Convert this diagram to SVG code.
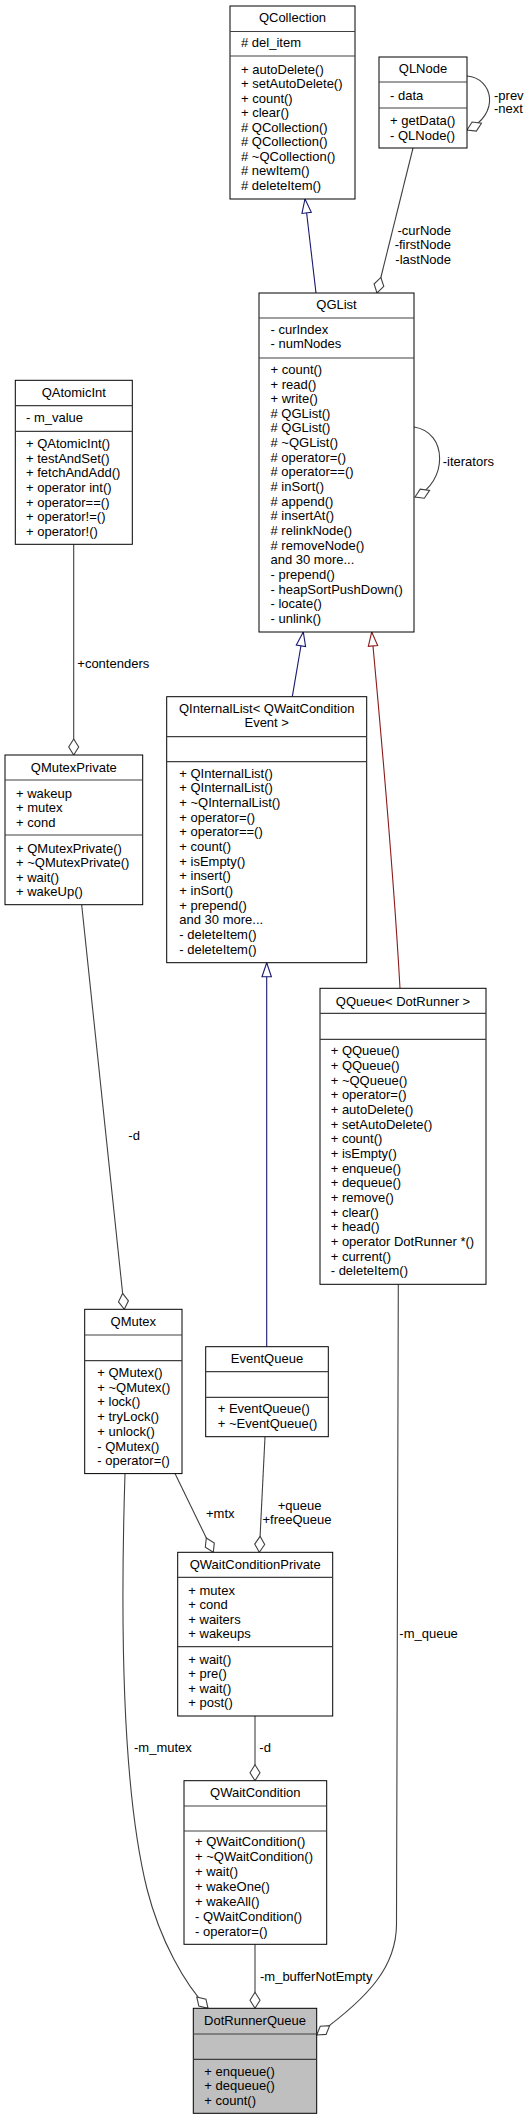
<svg xmlns="http://www.w3.org/2000/svg" width="530" height="2120" viewBox="0 0 530 2120">
<style>
text{font-family:"Liberation Sans",Arial,Helvetica,sans-serif;font-size:13px;fill:#000}
.c{text-anchor:middle}
.e{text-anchor:end}
.box{fill:#fff;stroke:#000;stroke-width:1}
.cur{fill:#bfbfbf;stroke:#000;stroke-width:1}
.sep{stroke:#404040;stroke-width:1.2}
.use{fill:none;stroke:#404040;stroke-width:1.1}
.pub{fill:none;stroke:#191970;stroke-width:1.1}
.pri{fill:none;stroke:#8b1a1a;stroke-width:1.1}
</style>
<defs>
<marker id="dia" markerUnits="userSpaceOnUse" markerWidth="20" markerHeight="14" refX="17" refY="6" orient="auto" overflow="visible"><path d="M1,6 L9,1 L17,6 L9,11 Z" fill="#fff" stroke="#404040" stroke-width="1.1"/></marker>
<marker id="triB" markerUnits="userSpaceOnUse" markerWidth="18" markerHeight="14" refX="15" refY="6" orient="auto" overflow="visible"><path d="M1,1.3 L15,6 L1,10.7 Z" fill="#fff" stroke="#191970" stroke-width="1.1"/></marker>
<marker id="triR" markerUnits="userSpaceOnUse" markerWidth="18" markerHeight="14" refX="15" refY="6" orient="auto" overflow="visible"><path d="M1,1.3 L15,6 L1,10.7 Z" fill="#fff" stroke="#8b1a1a" stroke-width="1.1"/></marker>
</defs>
<rect width="530" height="2120" fill="#fff"/>
<g id="connectors">
<path class="pub" d="M316,293 L305,199" marker-end="url(#triB)"/>
<path class="use" d="M413,148 L377,293" marker-end="url(#dia)"/>
<text class="e" x="451" y="234.5">-curNode</text>
<text class="e" x="451" y="248.5">-firstNode</text>
<text class="e" x="451" y="263.5">-lastNode</text>
<path class="use" d="M467,76 C493,78 501,114 467,130" marker-end="url(#dia)"/>
<text x="494" y="99.5">-prev</text>
<text x="494" y="113">-next</text>
<path class="use" d="M414,427 C448,432 448,482 415,497" marker-end="url(#dia)"/>
<text x="442.7" y="466">-iterators</text>
<path class="use" d="M73.7,544.3 L73.7,755" marker-end="url(#dia)"/>
<text x="77.3" y="667.8">+contenders</text>
<path class="pub" d="M292.3,696.7 L303.3,632" marker-end="url(#triB)"/>
<path class="pri" d="M400,988.3 C394,880 378,700 371.7,632" marker-end="url(#triR)"/>
<path class="use" d="M81.7,905 L124.3,1309.3" marker-end="url(#dia)"/>
<text x="128.3" y="1140.2">-d</text>
<path class="pub" d="M266.7,1346.7 L266.7,962.7" marker-end="url(#triB)"/>
<path class="use" d="M265,1436.7 L259.3,1552.3" marker-end="url(#dia)"/>
<text class="c" x="299.5" y="1509.5">+queue</text>
<text class="c" x="297" y="1523.8">+freeQueue</text>
<path class="use" d="M175,1473.6 L213.3,1552.3" marker-end="url(#dia)"/>
<text x="206" y="1517.8">+mtx</text>
<path class="use" d="M255,1716 L255,1780.7" marker-end="url(#dia)"/>
<text x="259.3" y="1752.2">-d</text>
<path class="use" d="M255,1944.3 L255,2008.3" marker-end="url(#dia)"/>
<text x="260" y="1980.5">-m_bufferNotEmpty</text>
<path class="use" d="M125,1473.6 C121,1600 120,1780 147,1889 C160,1940 185,1985 208,2008.3" marker-end="url(#dia)"/>
<text x="134" y="1752">-m_mutex</text>
<path class="use" d="M398.3,1284.3 L396.5,1925 C396,1965 372,1995 316.7,2035" marker-end="url(#dia)"/>
<text x="399.3" y="1637.8">-m_queue</text>
</g>
<g id="QCollection">
<rect class="box" x="230" y="6" width="125" height="193"/>
<line class="sep" x1="230" y1="31.5" x2="355" y2="31.5"/>
<line class="sep" x1="230" y1="56" x2="355" y2="56"/>
<text class="c" x="292.5" y="21.5">QCollection</text>
<text x="241" y="47"># del_item</text>
<text x="241" y="73.5">+ autoDelete()</text>
<text x="241" y="88">+ setAutoDelete()</text>
<text x="241" y="102.5">+ count()</text>
<text x="241" y="117">+ clear()</text>
<text x="241" y="131.5"># QCollection()</text>
<text x="241" y="146"># QCollection()</text>
<text x="241" y="160.5"># ~QCollection()</text>
<text x="241" y="175"># newItem()</text>
<text x="241" y="189.5"># deleteItem()</text>
</g>
<g id="QLNode">
<rect class="box" x="379" y="57" width="88" height="91"/>
<line class="sep" x1="379" y1="82" x2="467" y2="82"/>
<line class="sep" x1="379" y1="108" x2="467" y2="108"/>
<text class="c" x="423" y="72.5">QLNode</text>
<text x="390" y="99.5">- data</text>
<text x="390" y="124.5">+ getData()</text>
<text x="390" y="139.5">- QLNode()</text>
</g>
<g id="QGList">
<rect class="box" x="259" y="293" width="155" height="339"/>
<line class="sep" x1="259" y1="318" x2="414" y2="318"/>
<line class="sep" x1="259" y1="358" x2="414" y2="358"/>
<text class="c" x="336.5" y="308.5">QGList</text>
<text x="270.5" y="333.5">- curIndex</text>
<text x="270.5" y="348">- numNodes</text>
<text x="270.5" y="373.8">+ count()</text>
<text x="270.5" y="388.5">+ read()</text>
<text x="270.5" y="403.1">+ write()</text>
<text x="270.5" y="417.8"># QGList()</text>
<text x="270.5" y="432.4"># QGList()</text>
<text x="270.5" y="447.1"># ~QGList()</text>
<text x="270.5" y="461.7"># operator=()</text>
<text x="270.5" y="476.4"># operator==()</text>
<text x="270.5" y="491"># inSort()</text>
<text x="270.5" y="505.7"># append()</text>
<text x="270.5" y="520.3"># insertAt()</text>
<text x="270.5" y="535"># relinkNode()</text>
<text x="270.5" y="549.6"># removeNode()</text>
<text x="270.5" y="564.3">and 30 more...</text>
<text x="270.5" y="578.9">- prepend()</text>
<text x="270.5" y="593.6">- heapSortPushDown()</text>
<text x="270.5" y="608.2">- locate()</text>
<text x="270.5" y="622.9">- unlink()</text>
</g>
<g id="QAtomicInt">
<rect class="box" x="15.3" y="380.3" width="117" height="164"/>
<line class="sep" x1="15.3" y1="405.7" x2="132.3" y2="405.7"/>
<line class="sep" x1="15.3" y1="431.3" x2="132.3" y2="431.3"/>
<text class="c" x="73.8" y="397.2">QAtomicInt</text>
<text x="26" y="422.2">- m_value</text>
<text x="26" y="447.8">+ QAtomicInt()</text>
<text x="26" y="462.5">+ testAndSet()</text>
<text x="26" y="477.2">+ fetchAndAdd()</text>
<text x="26" y="491.9">+ operator int()</text>
<text x="26" y="506.6">+ operator==()</text>
<text x="26" y="521.3">+ operator!=()</text>
<text x="26" y="536">+ operator!()</text>
</g>
<g id="QMutexPrivate">
<rect class="box" x="5" y="755" width="137.7" height="149.7"/>
<line class="sep" x1="5" y1="780" x2="142.7" y2="780"/>
<line class="sep" x1="5" y1="835" x2="142.7" y2="835"/>
<text class="c" x="73.8" y="771.8">QMutexPrivate</text>
<text x="16" y="797.8">+ wakeup</text>
<text x="16" y="812.2">+ mutex</text>
<text x="16" y="826.5">+ cond</text>
<text x="16" y="852.8">+ QMutexPrivate()</text>
<text x="16" y="867.1">+ ~QMutexPrivate()</text>
<text x="16" y="881.5">+ wait()</text>
<text x="16" y="895.8">+ wakeUp()</text>
</g>
<g id="QInternalList">
<rect class="box" x="166.7" y="696.7" width="200" height="266"/>
<line class="sep" x1="166.7" y1="736.7" x2="366.7" y2="736.7"/>
<line class="sep" x1="166.7" y1="761.7" x2="366.7" y2="761.7"/>
<text class="c" x="266.7" y="712.8">QInternalList&lt; QWaitCondition</text>
<text class="c" x="266.7" y="727.2">Event &gt;</text>
<text x="179.3" y="777.8">+ QInternalList()</text>
<text x="179.3" y="792.4">+ QInternalList()</text>
<text x="179.3" y="807.1">+ ~QInternalList()</text>
<text x="179.3" y="821.7">+ operator=()</text>
<text x="179.3" y="836.4">+ operator==()</text>
<text x="179.3" y="851">+ count()</text>
<text x="179.3" y="865.6">+ isEmpty()</text>
<text x="179.3" y="880.3">+ insert()</text>
<text x="179.3" y="894.9">+ inSort()</text>
<text x="179.3" y="909.6">+ prepend()</text>
<text x="179.3" y="924.2">and 30 more...</text>
<text x="179.3" y="938.8">- deleteItem()</text>
<text x="179.3" y="953.5">- deleteItem()</text>
</g>
<g id="QQueue">
<rect class="box" x="320" y="988.3" width="166" height="296"/>
<line class="sep" x1="320" y1="1013.3" x2="486" y2="1013.3"/>
<line class="sep" x1="320" y1="1039.3" x2="486" y2="1039.3"/>
<text class="c" x="403" y="1006.2">QQueue&lt; DotRunner &gt;</text>
<text x="330.7" y="1055.2">+ QQueue()</text>
<text x="330.7" y="1069.9">+ QQueue()</text>
<text x="330.7" y="1084.5">+ ~QQueue()</text>
<text x="330.7" y="1099.2">+ operator=()</text>
<text x="330.7" y="1113.9">+ autoDelete()</text>
<text x="330.7" y="1128.6">+ setAutoDelete()</text>
<text x="330.7" y="1143.2">+ count()</text>
<text x="330.7" y="1157.9">+ isEmpty()</text>
<text x="330.7" y="1172.6">+ enqueue()</text>
<text x="330.7" y="1187.2">+ dequeue()</text>
<text x="330.7" y="1201.9">+ remove()</text>
<text x="330.7" y="1216.6">+ clear()</text>
<text x="330.7" y="1231.2">+ head()</text>
<text x="330.7" y="1245.9">+ operator DotRunner *()</text>
<text x="330.7" y="1260.6">+ current()</text>
<text x="330.7" y="1275.2">- deleteItem()</text>
</g>
<g id="QMutex">
<rect class="box" x="84.7" y="1309.3" width="97.3" height="164.3"/>
<line class="sep" x1="84.7" y1="1335" x2="182" y2="1335"/>
<line class="sep" x1="84.7" y1="1360.7" x2="182" y2="1360.7"/>
<text class="c" x="133.3" y="1326.2">QMutex</text>
<text x="97.3" y="1376.8">+ QMutex()</text>
<text x="97.3" y="1391.5">+ ~QMutex()</text>
<text x="97.3" y="1406.3">+ lock()</text>
<text x="97.3" y="1421">+ tryLock()</text>
<text x="97.3" y="1435.7">+ unlock()</text>
<text x="97.3" y="1450.5">- QMutex()</text>
<text x="97.3" y="1465.2">- operator=()</text>
</g>
<g id="EventQueue">
<rect class="box" x="205.7" y="1346.7" width="122.6" height="90"/>
<line class="sep" x1="205.7" y1="1371.7" x2="328.3" y2="1371.7"/>
<line class="sep" x1="205.7" y1="1397.3" x2="328.3" y2="1397.3"/>
<text class="c" x="267" y="1362.8">EventQueue</text>
<text x="217.7" y="1412.8">+ EventQueue()</text>
<text x="217.7" y="1427.8">+ ~EventQueue()</text>
</g>
<g id="QWaitConditionPrivate">
<rect class="box" x="177.7" y="1552.3" width="155" height="163.7"/>
<line class="sep" x1="177.7" y1="1577.3" x2="332.7" y2="1577.3"/>
<line class="sep" x1="177.7" y1="1646.7" x2="332.7" y2="1646.7"/>
<text class="c" x="255.2" y="1568.8">QWaitConditionPrivate</text>
<text x="188.3" y="1594.5">+ mutex</text>
<text x="188.3" y="1609">+ cond</text>
<text x="188.3" y="1623.5">+ waiters</text>
<text x="188.3" y="1638">+ wakeups</text>
<text x="188.3" y="1663.5">+ wait()</text>
<text x="188.3" y="1678">+ pre()</text>
<text x="188.3" y="1692.5">+ wait()</text>
<text x="188.3" y="1707">+ post()</text>
</g>
<g id="QWaitCondition">
<rect class="box" x="184" y="1780.7" width="142.7" height="163.6"/>
<line class="sep" x1="184" y1="1806" x2="326.7" y2="1806"/>
<line class="sep" x1="184" y1="1831" x2="326.7" y2="1831"/>
<text class="c" x="255.3" y="1796.8">QWaitCondition</text>
<text x="195" y="1846.2">+ QWaitCondition()</text>
<text x="195" y="1861.2">+ ~QWaitCondition()</text>
<text x="195" y="1876.2">+ wait()</text>
<text x="195" y="1891.2">+ wakeOne()</text>
<text x="195" y="1906.2">+ wakeAll()</text>
<text x="195" y="1921.2">- QWaitCondition()</text>
<text x="195" y="1936.2">- operator=()</text>
</g>
<g id="DotRunnerQueue">
<rect class="cur" x="193.3" y="2008.3" width="123.4" height="105"/>
<line class="sep" x1="193.3" y1="2034" x2="316.7" y2="2034"/>
<line class="sep" x1="193.3" y1="2059.3" x2="316.7" y2="2059.3"/>
<text class="c" x="255" y="2024.5">DotRunnerQueue</text>
<text x="204.3" y="2075.5">+ enqueue()</text>
<text x="204.3" y="2090">+ dequeue()</text>
<text x="204.3" y="2104.8">+ count()</text>
</g>
</svg>
